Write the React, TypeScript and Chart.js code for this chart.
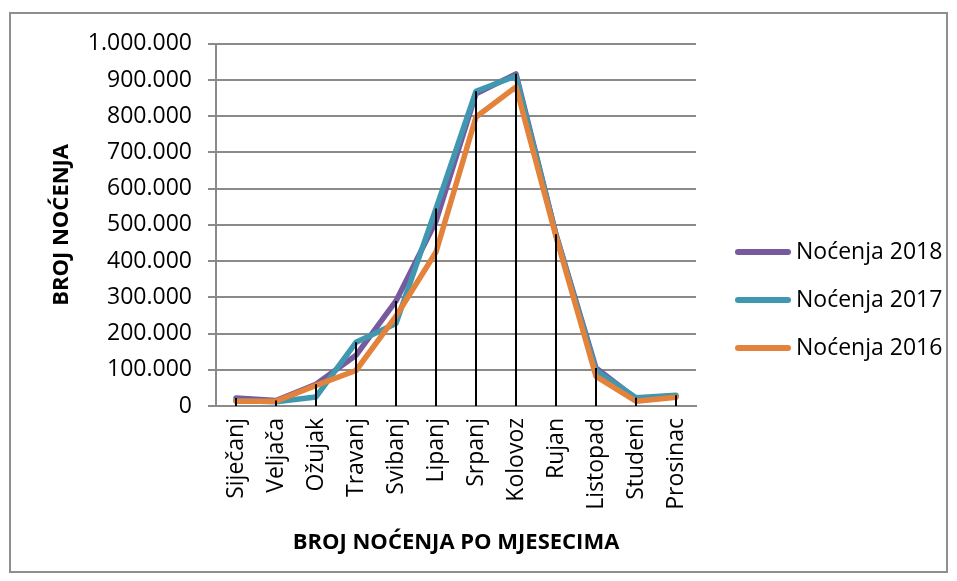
import React, { useEffect, useRef } from "react";
import { Chart, registerables } from "chart.js";

Chart.register(...registerables);

const months = [
  "Siječanj",
  "Veljača",
  "Ožujak",
  "Travanj",
  "Svibanj",
  "Lipanj",
  "Srpanj",
  "Kolovoz",
  "Rujan",
  "Listopad",
  "Studeni",
  "Prosinac",
];

const nocenja2018 = [22000, 15000, 60000, 140000, 290000, 510000, 862000, 917000, 474000, 105000, 20000, 28000];
const nocenja2017 = [15000, 12000, 25000, 176000, 228000, 545000, 869000, 911000, 472000, 98000, 23000, 30000];
const nocenja2016 = [13000, 13000, 57000, 98000, 248000, 425000, 798000, 881000, 468000, 82000, 13000, 24000];

const seriesLabels = ["Noćenja 2018", "Noćenja 2017", "Noćenja 2016"];
const yMin = 0;
const yMax = 1000000;
const yStep = 100000;

const xTitle = "BROJ NOĆENJA PO MJESECIMA";
const yTitle = "BROJ NOĆENJA";

const PURPLE = "#775a9e";
const TEAL = "#3f98b0";
const ORANGE = "#e3823a";
const GRID = "#8a8a8a";
const FONT = "'Open Sans', sans-serif";

const fmt = (v: number) => String(v).replace(/\B(?=(\d{3})+(?!\d))/g, ".");

const dropLines = {
  id: "dropLines",
  afterDatasetsDraw(chart: any) {
    const { ctx, scales } = chart;
    const x = scales.x;
    const y = scales.y;
    ctx.save();
    ctx.strokeStyle = "#000";
    ctx.lineWidth = 2;
    months.forEach((_m, i) => {
      const maxV = Math.max(...chart.data.datasets.map((d: any) => d.data[i]));
      const px = Math.round(x.getPixelForValue(i));
      ctx.beginPath();
      ctx.moveTo(px, y.getPixelForValue(maxV));
      ctx.lineTo(px, y.getPixelForValue(0));
      ctx.stroke();
    });
    ctx.restore();
  },
};

const customLegend = {
  id: "customLegend",
  afterDraw(chart: any) {
    const { ctx, chartArea } = chart;
    const items = [...chart.data.datasets].reverse();
    const lineStart = chartArea.right + 42;
    const lineEnd = chartArea.right + 92;
    const textX = chartArea.right + 100;
    const rowStart = 238;
    const rowGap = 48;
    ctx.save();
    ctx.font = `23px ${FONT}`;
    ctx.textBaseline = "middle";
    ctx.textAlign = "left";
    items.forEach((ds: any, i: number) => {
      const yy = rowStart + i * rowGap;
      ctx.strokeStyle = ds.borderColor;
      ctx.lineWidth = 6;
      ctx.lineCap = "round";
      ctx.beginPath();
      ctx.moveTo(lineStart, yy);
      ctx.lineTo(lineEnd, yy);
      ctx.stroke();
      ctx.fillStyle = "#000";
      ctx.fillText(ds.label, textX, yy);
    });
    ctx.restore();
  },
};

export default function App() {
  const ref = useRef<HTMLCanvasElement>(null);

  useEffect(() => {
    const common = {
      borderWidth: 5.5,
      pointRadius: 0,
      tension: 0,
      fill: false,
      borderJoinStyle: "round" as const,
      borderCapStyle: "round" as const,
    };
    const chart = new Chart(ref.current!, {
      type: "line",
      data: {
        labels: months,
        datasets: [
          { label: seriesLabels[2], data: nocenja2016, borderColor: ORANGE, backgroundColor: ORANGE, ...common },
          { label: seriesLabels[1], data: nocenja2017, borderColor: TEAL, backgroundColor: TEAL, ...common },
          { label: seriesLabels[0], data: nocenja2018, borderColor: PURPLE, backgroundColor: PURPLE, ...common },
        ],
      },
      options: {
        animation: false,
        responsive: false,
        maintainAspectRatio: false,
        layout: { padding: { top: 28, right: 250, bottom: 0, left: 0 } },
        plugins: {
          legend: { display: false },
          tooltip: { enabled: false },
        },
        scales: {
          x: {
            offset: true,
            grid: { display: false, drawTicks: false, offset: true },
            border: { display: true, color: GRID, width: 2 },
            ticks: {
              autoSkip: false,
              minRotation: 90,
              maxRotation: 90,
              padding: 12,
              color: "#000",
              font: { family: FONT, size: 23 },
            },
            title: {
              display: true,
              text: xTitle,
              color: "#000",
              font: { family: FONT, size: 22, weight: "bold" },
              padding: { top: 0, bottom: 15 },
            },
            afterFit: (s: any) => {
              s.height = 165;
            },
          },
          y: {
            min: yMin,
            max: yMax,
            ticks: {
              stepSize: yStep,
              padding: 16,
              color: "#000",
              font: { family: FONT, size: 23 },
              callback: (v: any) => fmt(Number(v)),
            },
            grid: { color: GRID, lineWidth: 2, tickLength: 8, drawTicks: true },
            border: { display: true, color: GRID, width: 2 },
            title: {
              display: true,
              text: yTitle,
              color: "#000",
              font: { family: FONT, size: 22, weight: "bold" },
              padding: { top: 38, bottom: 0 },
            },
            afterFit: (s: any) => {
              s.width = 205;
            },
          },
        },
      } as any,
      plugins: [dropLines, customLegend],
    });
    return () => chart.destroy();
  }, []);

  return (
    <div
      style={{
        position: "absolute",
        left: 9,
        top: 12,
        width: 939,
        height: 561,
        border: "2px solid #8f8f8f",
        boxSizing: "border-box",
        background: "#fff",
      }}
    >
      <canvas ref={ref} width={935} height={557} style={{ display: "block" }} />
    </div>
  );
}
